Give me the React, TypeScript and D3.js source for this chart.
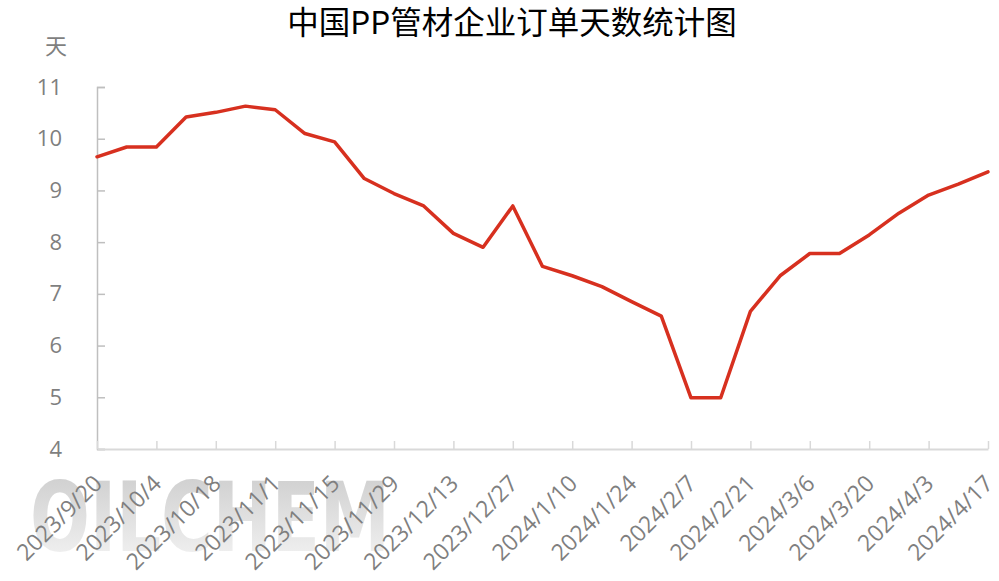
import React, { useEffect, useRef } from "react";
import * as d3 from "d3";

// weekly dates, 2023/9/20 - 2024/4/17
const dates = [
  "2023/9/20", "2023/9/27", "2023/10/4", "2023/10/11", "2023/10/18", "2023/10/25",
  "2023/11/1", "2023/11/8", "2023/11/15", "2023/11/22", "2023/11/29", "2023/12/6",
  "2023/12/13", "2023/12/20", "2023/12/27", "2024/1/3", "2024/1/10", "2024/1/17",
  "2024/1/24", "2024/1/31", "2024/2/7", "2024/2/14", "2024/2/21", "2024/2/28",
  "2024/3/6", "2024/3/13", "2024/3/20", "2024/3/27", "2024/4/3", "2024/4/10",
  "2024/4/17",
];

const days = [
  9.65, 9.84, 9.84, 10.42, 10.51, 10.63, 10.56, 10.1, 9.94, 9.23, 8.94, 8.7,
  8.17, 7.9, 8.7, 7.53, 7.35, 7.14, 6.85, 6.57, 4.99, 4.99, 6.66, 7.35,
  7.78, 7.78, 8.14, 8.56, 8.91, 9.12, 9.36,
];

const yTicks = [4, 5, 6, 7, 8, 9, 10, 11];

const title = "中国PP管材企业订单天数统计图";
const unitLabel = "天";
const watermark = "OILCHEM";

export default function App() {
  const ref = useRef<SVGSVGElement>(null);

  useEffect(() => {
    const width = 999;
    const height = 581;
    const margin = { top: 87, right: 11, bottom: 132, left: 97 };
    const innerW = width - margin.left - margin.right;
    const innerH = height - margin.top - margin.bottom;

    const svg = d3.select(ref.current);
    svg.selectAll("*").remove();

    const numFont = "'Open Sans', 'Noto Sans', sans-serif";
    const cjkFont = "'Noto Sans CJK SC', sans-serif";

    // watermark gradient
    const defs = svg.append("defs");
    const grad = defs
      .append("linearGradient")
      .attr("id", "wm")
      .attr("x1", 0)
      .attr("y1", 0)
      .attr("x2", 0)
      .attr("y2", 1);
    grad.append("stop").attr("offset", "0%").attr("stop-color", "#cacaca");
    grad.append("stop").attr("offset", "100%").attr("stop-color", "#f7f7f7");

    svg
      .append("text")
      .attr("x", 30)
      .attr("y", 551)
      .attr("textLength", 360)
      .attr("lengthAdjust", "spacingAndGlyphs")
      .text(watermark)
      .style("font-family", "'DejaVu Sans', sans-serif")
      .style("font-weight", "bold")
      .style("font-size", "96px")
      .attr("fill", "url(#wm)");

    // title
    svg
      .append("text")
      .attr("x", 512)
      .attr("y", 34)
      .attr("text-anchor", "middle")
      .text(title)
      .style("font-family", cjkFont)
      .style("font-size", "31.5px")
      .attr("fill", "#000");

    svg
      .append("text")
      .attr("x", 56)
      .attr("y", 54)
      .attr("text-anchor", "middle")
      .text(unitLabel)
      .style("font-family", cjkFont)
      .style("font-size", "22px")
      .attr("fill", "#7f7f7f");

    const bounds = svg
      .append("g")
      .attr("transform", `translate(${margin.left},${margin.top})`);

    const xScale = d3
      .scalePoint<string>()
      .domain(dates)
      .range([0, innerW])
      .padding(0);

    const yScale = d3.scaleLinear().domain([4, 11]).range([innerH, 0]);

    // y axis
    const yAxis = bounds
      .append("g")
      .call(d3.axisLeft(yScale).tickValues(yTicks).tickSize(-8).tickPadding(36).tickFormat(d3.format("d")));
    yAxis.select(".domain").attr("stroke", "#bfbfbf").attr("stroke-width", 1.5);
    yAxis.selectAll(".tick line").attr("stroke", "#bfbfbf").attr("stroke-width", 1.5);
    yAxis
      .selectAll(".tick text")
      .attr("fill", "#7f7f7f")
      .attr("text-anchor", "end")
      .attr("x", -35)
      .style("font-family", numFont)
      .style("font-size", "22px");

    // x axis
    const shown = dates.filter((_, i) => i % 2 === 0);
    const xAxis = bounds
      .append("g")
      .attr("transform", `translate(0,${innerH})`)
      .call(d3.axisBottom(xScale).tickValues(shown).tickSize(-8).tickSizeOuter(0));
    xAxis.select(".domain").attr("stroke", "#d9d9d9").attr("stroke-width", 2);
    xAxis.selectAll(".tick line").attr("stroke", "#d9d9d9").attr("stroke-width", 1.5);
    xAxis
      .selectAll(".tick text")
      .attr("fill", "#7f7f7f")
      .attr("text-anchor", "end")
      .attr("dy", 0)
      .attr("y", 0)
      .attr("transform", "translate(6,36) rotate(-45)")
      .style("font-family", numFont)
      .style("font-size", "23px");

    // line
    const line = d3
      .line<number>()
      .x((_, i) => xScale(dates[i]) as number)
      .y((d) => yScale(d));

    bounds
      .append("path")
      .datum(days)
      .attr("d", line)
      .attr("fill", "none")
      .attr("stroke", "#d7301f")
      .attr("stroke-width", 3.5)
      .attr("stroke-linejoin", "round")
      .attr("stroke-linecap", "round");
  }, []);

  return (
    <svg
      ref={ref}
      width={999}
      height={581}
      style={{ display: "block", position: "absolute", left: 0, top: 0, background: "#fff" }}
    />
  );
}
